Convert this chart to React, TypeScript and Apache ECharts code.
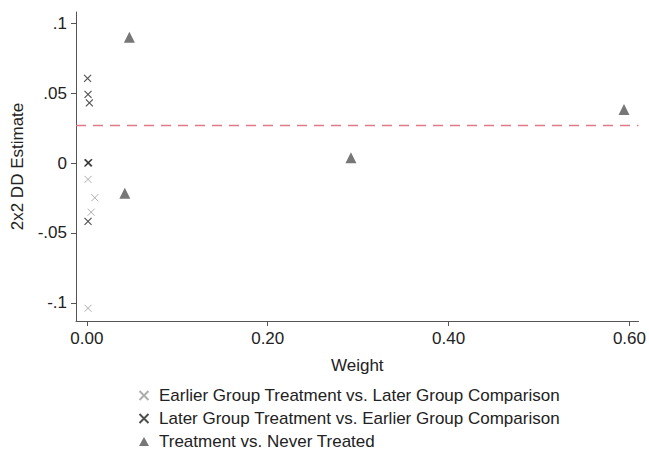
import React, { useEffect, useRef } from "react";
import * as echarts from "echarts";

const earlierVsLater: [number, number][] = [
  [0.0013, -0.0117],
  [0.0088, -0.0248],
  [0.0047, -0.0352],
  [0.0013, -0.1038],
];
const laterVsEarlier: [number, number][] = [
  [0.0008, 0.0605],
  [0.0013, 0.049],
  [0.0028, 0.043],
  [0.0012, 0.0],
  [0.002, 0.0003],
  [0.0013, -0.0417],
];
const treatVsNever: [number, number][] = [
  [0.047, 0.0898],
  [0.042, -0.0216],
  [0.292, 0.0038],
  [0.594, 0.0383],
];
const overallEstimate = 0.0268;

const seriesNames = [
  "Earlier Group Treatment vs. Later Group Comparison",
  "Later Group Treatment vs. Earlier Group Comparison",
  "Treatment vs. Never Treated",
];
const xTicks = [0, 0.2, 0.4, 0.6];
const yTicks = [-0.1, -0.05, 0, 0.05, 0.1];
const yTickLabels = ["-.1", "-.05", "0", ".05", ".1"];
const xMin = -0.012;
const xMax = 0.61;

const FONT = "'Liberation Sans', Arial, sans-serif";
const CROSS = "path://M0,0L10,10M10,0L0,10";
const FS = 17;

export default function App() {
  const ref = useRef<HTMLDivElement>(null);
  useEffect(() => {
    if (!ref.current) return;
    const chart = echarts.init(ref.current, undefined, { renderer: "svg" });
    chart.setOption({
      animation: false,
      textStyle: { fontFamily: FONT },
      grid: { left: 76, right: 9, top: 12, bottom: 129 },
      xAxis: {
        type: "value",
        min: xMin,
        max: xMax,
        name: "Weight",
        nameLocation: "middle",
        nameGap: 36,
        nameTextStyle: { fontSize: FS, color: "#222", fontFamily: FONT },
        axisLine: { show: true, onZero: false, lineStyle: { color: "#555", width: 1 } },
        axisTick: { show: true, length: 5, customValues: xTicks, lineStyle: { color: "#555" } },
        axisLabel: {
          customValues: xTicks,
          formatter: (v: number) => v.toFixed(2),
          fontSize: FS,
          color: "#222",
          margin: 9,
          fontFamily: FONT,
        },
        splitLine: { show: false },
      },
      yAxis: {
        type: "value",
        min: -0.1129,
        max: 0.1079,
        name: "2x2 DD Estimate",
        nameLocation: "middle",
        nameGap: 50,
        nameRotate: 90,
        nameTextStyle: { fontSize: FS, color: "#222", fontFamily: FONT },
        axisLine: { show: true, onZero: false, lineStyle: { color: "#555", width: 1 } },
        axisTick: { show: true, length: 5, customValues: yTicks, lineStyle: { color: "#555" } },
        axisLabel: {
          customValues: yTicks,
          formatter: (v: number) => {
            const i = yTicks.findIndex((t) => Math.abs(t - v) < 1e-9);
            return i >= 0 ? yTickLabels[i] : "";
          },
          fontSize: FS,
          color: "#222",
          margin: 9,
          fontFamily: FONT,
        },
        splitLine: { show: false },
      },
      legend: {
        orient: "vertical",
        left: 137,
        top: 387,
        height: 63,
        padding: 0,
        itemWidth: 10,
        itemHeight: 9,
        itemGap: 6,
        textStyle: { fontSize: FS, color: "#222", fontFamily: FONT, padding: [0, 0, 0, 5] },
        data: seriesNames,
      },
      series: [
        {
          name: "overall",
          type: "line",
          data: [
            [xMin, overallEstimate],
            [xMax, overallEstimate],
          ],
          showSymbol: false,
          silent: true,
          lineStyle: { color: "#e07a86", type: [10, 7], width: 1.5 },
          z: 1,
        },
        {
          name: seriesNames[0],
          type: "scatter",
          data: earlierVsLater,
          symbol: CROSS,
          symbolSize: 7,
          itemStyle: { color: "none", borderColor: "#9a9a9a", borderWidth: 1 },
        },
        {
          name: seriesNames[1],
          type: "scatter",
          data: laterVsEarlier,
          symbol: CROSS,
          symbolSize: 7,
          itemStyle: { color: "none", borderColor: "#222", borderWidth: 1.1 },
        },
        {
          name: seriesNames[2],
          type: "scatter",
          data: treatVsNever,
          symbol: "triangle",
          symbolSize: 11,
          itemStyle: { color: "#555" },
        },
      ],
    });
    return () => chart.dispose();
  }, []);
  return <div ref={ref} style={{ width: 649, height: 450, position: "absolute", left: 0, top: 0 }} />;
}
